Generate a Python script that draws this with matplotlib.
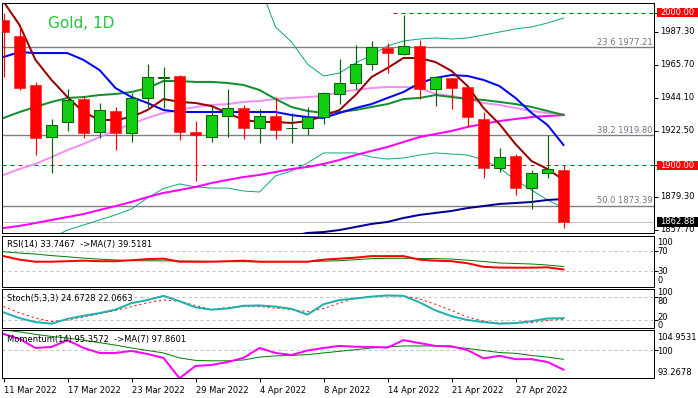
import numpy as np
import matplotlib
matplotlib.use("Agg")
import matplotlib.pyplot as plt
import matplotlib.transforms as mtransforms
from matplotlib.patches import Rectangle

W, H = 698, 398
nan = np.nan

# ---------------- data ----------------
tick_idx = [0, 4, 8, 12, 16, 20, 24, 28, 32]
tick_labels = ["11 Mar 2022", "17 Mar 2022", "23 Mar 2022", "29 Mar 2022", "4 Apr 2022",
               "8 Apr 2022", "14 Apr 2022", "21 Apr 2022", "27 Apr 2022"]

opens = [1995.2, 1984.7, 1952.6, 1918.7, 1928.2, 1943.4, 1922.0, 1935.6, 1921.3, 1943.9,
         1957.4, 1958.5, 1921.6, 1918.7, 1932.5, 1937.7, 1924.6, 1932.3, 1924.4, 1924.6,
         1931.4, 1946.5, 1953.7, 1966.1, 1977.0, 1972.9, 1978.1, 1949.8, 1957.0, 1951.1,
         1930.3, 1898.0, 1906.1, 1885.3, 1895.2, 1896.9]
highs = [1999.5, 1990.8, 1954.7, 1930.1, 1950.0, 1945.4, 1941.0, 1938.4, 1947.2, 1966.3,
         1964.2, 1959.1, 1929.0, 1938.8, 1950.0, 1939.5, 1936.9, 1944.5, 1934.1, 1938.0,
         1948.2, 1969.4, 1978.8, 1981.4, 1979.9, 1998.4, 1982.1, 1958.5, 1957.2, 1951.3,
         1934.7, 1911.5, 1907.4, 1896.9, 1919.8, 1900.2]
lows = [1958.0, 1949.3, 1906.8, 1894.8, 1922.7, 1917.7, 1917.7, 1910.0, 1915.5, 1938.4,
        1937.3, 1916.6, 1889.9, 1915.5, 1918.7, 1917.2, 1914.8, 1917.2, 1914.8, 1919.8,
        1927.1, 1940.0, 1949.8, 1962.4, 1960.3, 1972.2, 1943.4, 1938.8, 1936.7, 1925.3,
        1891.5, 1895.4, 1880.6, 1871.4, 1891.9, 1858.7]
closes = [1987.5, 1950.4, 1917.7, 1926.4, 1942.8, 1921.0, 1936.2, 1921.0, 1943.9, 1957.6,
          1957.8, 1922.0, 1919.7, 1932.9, 1937.3, 1924.6, 1932.5, 1923.1, 1924.7, 1931.4,
          1947.2, 1953.7, 1966.1, 1977.7, 1973.4, 1978.3, 1949.8, 1957.6, 1950.8, 1931.4,
          1898.0, 1905.2, 1885.3, 1894.8, 1897.4, 1862.88]

ma_maroon = [2007.2, 1991.9, 1969.0, 1955.9, 1944.7, 1934.9, 1929.7, 1929.7, 1931.6, 1936.2,
             1943.4, 1941.5, 1940.8, 1938.8, 1934.3, 1929.7, 1928.4, 1928.4, 1927.7, 1929.0,
             1932.3, 1936.2, 1946.0, 1957.8, 1963.7, 1970.3, 1970.3, 1967.6, 1961.8, 1951.9,
             1937.5, 1927.0, 1913.9, 1902.8, 1897.6, 1890.4]
ma_blue = [1970.9, 1974.2, 1973.5, 1973.5, 1973.5, 1969.0, 1962.4, 1950.6, 1944.7, 1940.8,
           1936.2, 1934.9, 1934.9, 1934.9, 1934.9, 1934.9, 1934.9, 1934.9, 1932.9, 1931.6,
           1931.0, 1934.3, 1937.5, 1940.1, 1944.1, 1948.0, 1953.9, 1957.2, 1959.1, 1958.5,
           1955.9, 1951.9, 1944.1, 1934.3, 1926.4, 1913.3]
ma_green = [1931.0, 1934.9, 1938.2, 1941.5, 1944.1, 1944.7, 1946.0, 1946.7, 1948.0, 1950.6,
            1955.2, 1955.2, 1954.6, 1954.6, 1953.9, 1952.6, 1949.3, 1943.4, 1938.2, 1935.6,
            1934.3, 1934.9, 1936.2, 1938.2, 1940.1, 1943.4, 1944.1, 1946.0, 1944.7, 1943.4,
            1942.8, 1941.5, 1940.1, 1938.2, 1935.6, 1932.9]
ma_pink = [1893.7, 1897.6, 1900.9, 1905.4, 1910.0, 1914.0, 1918.5, 1923.1, 1927.1, 1931.0,
           1934.3, 1936.2, 1938.2, 1939.5, 1940.1, 1941.5, 1942.1, 1943.4, 1944.1, 1944.7,
           1945.4, 1948.0, 1949.3, 1950.6, 1951.3, 1951.3, 1950.6, 1946.7, 1945.4, 1943.4,
           1940.8, 1939.5, 1937.5, 1935.6, 1934.3, 1933.6]
ma_magenta = [1858.9, 1860.3, 1862.2, 1864.2, 1866.1, 1868.1, 1870.7, 1873.3, 1876.0, 1879.2,
              1881.9, 1883.8, 1885.8, 1888.4, 1890.4, 1892.3, 1893.7, 1895.6, 1897.6, 1898.9,
              1900.9, 1903.5, 1906.7, 1909.4, 1912.0, 1915.3, 1918.5, 1920.5, 1922.5, 1925.1,
              1927.1, 1929.0, 1930.3, 1931.6, 1932.3, 1932.9]
ma_navy = [nan] * 18 + [1853.7, 1855.7, 1856.3, 1857.6, 1859.6, 1861.6, 1862.9, 1865.5, 1867.5,
                        1868.8, 1870.1, 1872.0, 1873.3, 1874.7, 1875.3, 1876.0, 1877.3, 1877.9]
bb_upper = [nan] * 16 + [2018.1, 1990.6, 1980.8, 1966.3, 1958.5, 1960.4, 1967.0, 1972.2, 1978.1,
                         1981.4, 1982.7, 1983.4, 1982.7, 1983.4, 1985.3, 1987.3, 1989.3, 1990.6,
                         1993.2, 1996.5]
bb_lower = [nan] * 3 + [1852.4, 1857.6, 1860.9, 1864.2, 1867.5, 1871.4, 1878.6, 1884.8, 1887.8,
                        1885.8, 1885.1, 1885.1, 1883.2, 1882.5, 1893.0, 1896.3, 1901.5, 1908.1,
                        1908.1, 1908.1, 1905.4, 1904.1, 1904.8, 1906.7, 1908.1, 1907.4, 1906.7,
                        1903.5, 1898.2, 1890.4, 1883.8, 1877.3, 1872.0]

fib_levels = [1977.21, 1919.80, 1873.39]
fib_texts = ["23.6 1977.21", "38.2 1919.80", "50.0 1873.39"]
red_levels = [2000.00, 1900.00]
last_price = 1862.88
price_labels = [1987.30, 1965.70, 1944.10, 1922.50, 1879.30, 1857.70]

rsi = [60, 53, 49, 49, 50, 51, 50, 50, 52, 54, 55, 49, 49, 49, 50, 51, 49, 49, 49, 49,
       53, 55, 57, 60, 60, 60, 53, 51, 50, 46, 39, 37.5, 37.3, 37.3, 38, 33.7467]
rsi_ma = [68.6, 66, 64, 61, 58.7, 56, 54, 52.5, 51, 50.8, 50.6, 50.4, 50, 49.5, 49.2, 49, 49,
          49, 49, 49.3, 50, 51, 53, 55, 55.7, 55.7, 55.5, 55, 54.3, 52, 49.5, 46.5, 45.5,
          44.5, 42.5, 39.5181]
stoch_k = [40, 25, 14.5, 10.5, 23, 31, 38, 47, 64, 72, 83, 69, 53, 47, 50, 57, 58, 55, 49, 34,
           61, 72, 76, 81, 84, 83, 66, 45, 30, 20, 14.5, 10.5, 12, 17, 24, 24.6728]
stoch_d = [55, 39, 25, 16, 20, 28, 36, 45, 55, 65, 72, 69, 58, 47, 53, 55, 55, 51, 47, 42,
           50, 64, 77, 81, 83, 83, 75, 61, 45, 28, 17, 12, 12, 13, 19, 22.0663]
mom = [104.0, 102.8, 100.6, 100.85, 102.5, 100.6, 99.4, 99.4, 99.9, 99.15, 98.2, 93.27,
       96.25, 96.5, 97.2, 98.2, 100.6, 99.4, 98.9, 100.0, 100.6, 101.1, 100.9, 100.85, 100.7,
       102.5, 101.8, 101.1, 101.0, 100.1, 98.1, 98.7, 97.9, 97.9, 97.2, 95.3572]
mom_ma = [104.95, 104.5, 103.9, 103.4, 103.0, 102.5, 101.9, 101.3, 100.6, 100.0, 99.4, 98.2,
          97.6, 97.5, 97.5, 97.7, 98.4, 98.7, 98.8, 99.0, 99.4, 99.8, 100.2, 100.6, 100.85,
          101.1, 101.1, 101.1, 100.85, 100.5, 100.0, 99.5, 99.3, 98.8, 98.4, 97.8601]

# ---------------- layout ----------------
plt.rcParams['font.family'] = ['DejaVu Sans']
FS = 6.0
fig = plt.figure(figsize=(W / 100, H / 100), dpi=100, facecolor='white')

def px_axes(l, t, r, b):
    return fig.add_axes([l / W, 1 - b / H, (r - l) / W, (b - t) / H])

L, R = 2.0, 654.3
ax = px_axes(L, 3.0, R, 232.7)
ax_rsi = px_axes(L, 235.7, R, 286.7)
ax_st = px_axes(L, 289.3, R, 327.7)
ax_mo = px_axes(L, 330.0, R, 378.3)

n = len(opens)
x = np.arange(n)
xl = ((L - 3.5) / 16, (R - 3.5) / 16)
PX = 0.72  # 1 pixel in points

for a in (ax, ax_rsi, ax_st, ax_mo):
    a.set_xlim(*xl)
    a.set_facecolor('white')
    for s in a.spines.values():
        s.set_linewidth(PX)
        s.set_color('black')
    a.yaxis.tick_right()
    a.tick_params(axis='y', direction='out', length=3, width=PX, labelright=False,
                  labelleft=False, color='black')
    a.tick_params(axis='x', bottom=False, labelbottom=False)

ax.set_ylim(1855.86, 2006.29)
ax_rsi.set_ylim(0, 100)
ax_st.set_ylim(0, 100)
ax_mo.set_ylim(93.2678, 104.9531)

# ---------- main panel ----------
for lv in fib_levels:
    ax.axhline(lv, color='#808080', lw=1.0, zorder=1)
ax.axhline(last_price, color='#C0C0C0', lw=PX, zorder=1)
ax.axhline(red_levels[1], color='#E00000', lw=PX, ls=(0, (4, 4)), zorder=1)
ax.plot([24.35, xl[1]], [red_levels[0], red_levels[0]], color='#E00000', lw=PX,
        ls=(0, (4, 4)), zorder=1)

ax.plot(x, bb_upper, color='#10A880', lw=PX, zorder=2)
ax.plot(x, bb_lower, color='#10A880', lw=PX, zorder=2)
ax.plot(x, ma_navy, color='#000090', lw=2 * PX, zorder=2)
ax.plot(x, ma_magenta, color='#FF00FF', lw=2 * PX, zorder=2)
ax.plot(x, ma_pink, color='#F090F0', lw=2 * PX, zorder=2)
ax.plot(x, ma_green, color='#109030', lw=2 * PX, zorder=2)
ax.plot(x, ma_blue, color='#0000FF', lw=2 * PX, zorder=2)
ax.plot(x, ma_maroon, color='#960000', lw=2 * PX, zorder=2)

o = np.array(opens); c = np.array(closes); h = np.array(highs); lo = np.array(lows)
up = c >= o
ax.vlines(x[up], lo[up], h[up], color='#006400', lw=PX * 1.2, zorder=3)
ax.vlines(x[~up], lo[~up], h[~up], color='#FF0000', lw=PX * 1.2, zorder=3)
bw = 0.66
ax.bar(x[up], np.maximum(c[up] - o[up], 0.3), bottom=o[up], width=bw, color='#11CC11',
       edgecolor='#006400', linewidth=PX, zorder=4)
ax.bar(x[~up], o[~up] - c[~up], bottom=c[~up], width=bw, color='#FF0000',
       edgecolor='#FF0000', linewidth=PX * 0.5, zorder=4)

ax.set_yticks([2000.0] + price_labels[:4] + [1900.0] + price_labels[4:])

ax.text(0.07, 0.91, "Gold, 1D", transform=ax.transAxes, fontsize=11, color='#22C83A',
        va='center', ha='left')

off = mtransforms.offset_copy(ax.transData, fig=fig, x=0, y=2.5, units='dots')
for lv, t in zip(fib_levels, fib_texts):
    ax.text(xl[1] - 0.1, lv, t, transform=off, fontsize=FS, color='#6E7884',
            ha='right', va='baseline', zorder=5)

blend = mtransforms.blended_transform_factory(fig.transFigure, ax.transData)
unit = 1 / 1.527  # one pixel in price units (layout only)
for p in price_labels:
    fig.text(660 / W, p, f"{p:.2f}", transform=blend, fontsize=FS, color='black',
             va='center', ha='left')
for p, fc in [(2000.0, '#FF0000'), (1900.0, '#FF0000'), (last_price, '#000000')]:
    fig.add_artist(Rectangle((657 / W, p - 4.6 * unit), 41 / W, 9.2 * unit, transform=blend,
                             facecolor=fc, edgecolor='none', zorder=5))
    fig.text(660 / W, p, f"{p:.2f}", transform=blend, fontsize=FS, color='white',
             va='center', ha='left', zorder=6)

# ---------- RSI ----------
for lv in (70, 30):
    ax_rsi.axhline(lv, color='#C0C0C0', lw=PX, ls=(0, (3, 3)))
ax_rsi.plot(x, rsi_ma, color='#008000', lw=PX)
ax_rsi.plot(x, rsi, color='#FF0000', lw=2 * PX)
ax_rsi.set_yticks([70, 30])
ax_rsi.text(0.008, 0.82, "RSI(14) 33.7467  ->MA(7) 39.5181", transform=ax_rsi.transAxes,
            fontsize=FS, va='center', ha='left')

# ---------- Stochastic ----------
for lv in (80, 20):
    ax_st.axhline(lv, color='#C0C0C0', lw=PX, ls=(0, (3, 3)))
ax_st.plot(x, stoch_d, color='#FF0000', lw=PX, ls=(0, (2, 3)))
ax_st.plot(x, stoch_k, color='#20B2AA', lw=2 * PX)
ax_st.set_yticks([80, 20])
ax_st.text(0.008, 0.76, "Stoch(5,3,3) 24.6728 22.0663", transform=ax_st.transAxes,
           fontsize=FS, va='center', ha='left')

# ---------- Momentum ----------
ax_mo.axhline(100, color='#C0C0C0', lw=PX, ls=(0, (3, 3)))
ax_mo.plot(x, mom_ma, color='#008000', lw=PX)
ax_mo.plot(x, mom, color='#FF00FF', lw=2 * PX)
ax_mo.set_yticks([100])
ax_mo.text(0.008, 0.80, "Momentum(14) 95.3572  ->MA(7) 97.8601", transform=ax_mo.transAxes,
           fontsize=FS, va='center', ha='left')

# right-hand labels of sub panels (figure pixel positions)
def flab(px_y, s, px_x=657.5):
    fig.text(px_x / W, 1 - px_y / H, s, fontsize=FS, color='black', va='center', ha='left')

for py, s in [(242.3, "100"), (251.7, "70"), (271.7, "30"), (280.7, "0"),
              (292.8, "100"), (301.6, "80"), (317.0, "20"), (325.3, "0"),
              (337.3, "104.9531"), (351.0, "100"), (372.7, "93.2678")]:
    flab(py, s)

# ---------- x axis ----------
ax_mo.set_xticks(tick_idx)
ax_mo.set_xticklabels(tick_labels, ha='left', fontsize=FS)
ax_mo.tick_params(axis='x', bottom=True, labelbottom=True, direction='out', length=3,
                  width=PX, pad=2.5)

fig.savefig("out.png", dpi=100, facecolor='white')
